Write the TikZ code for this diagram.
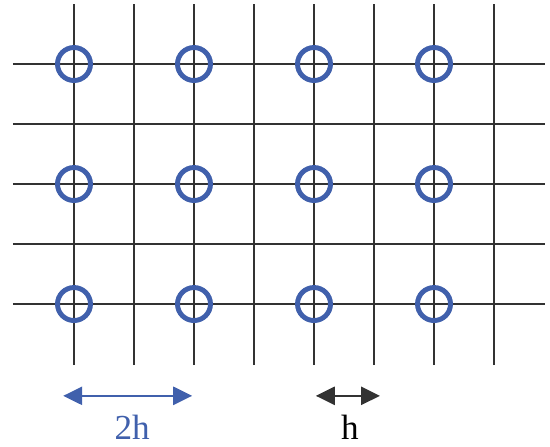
\documentclass[tikz,border=0pt]{standalone}
\usepackage{fontspec}
\setmainfont{Liberation Serif}
\usetikzlibrary{arrows.meta}
\definecolor{ringblue}{RGB}{64,96,172}
\definecolor{gridgray}{RGB}{50,50,50}

\begin{document}
\begin{tikzpicture}[x=1.2cm,y=1.2cm,
  gridline/.style={draw=gridgray, line width=1.1pt},
  site/.style={circle, draw=ringblue, line width=2.8pt, minimum size=0.66cm, inner sep=0pt},
  span/.style={line width=1.5pt, {Triangle[length=0.38cm,width=0.36cm]}-{Triangle[length=0.38cm,width=0.36cm]}},
  lbl/.style={font=\fontsize{20}{24}\selectfont, inner sep=0pt, anchor=base}]
    \useasboundingbox (-1.233,-2.367) rectangle (7.933,5.067);

    % Grid
    \foreach \i in {0,...,7}
        \draw[gridline] (\i,-1.02) -- (\i,5);
    \foreach \j in {0,...,4}
        \draw[gridline] (-1.02,\j) -- (7.85,\j);

    % Sites
    \node[site] (s00) at (0,0) {};
    \node[site] (s20) at (2,0) {};
    \node[site] (s40) at (4,0) {};
    \node[site] (s60) at (6,0) {};
    \node[site] (s02) at (0,2) {};
    \node[site] (s22) at (2,2) {};
    \node[site] (s42) at (4,2) {};
    \node[site] (s62) at (6,2) {};
    \node[site] (s04) at (0,4) {};
    \node[site] (s24) at (2,4) {};
    \node[site] (s44) at (4,4) {};
    \node[site] (s64) at (6,4) {};

    % Spacing arrows
    \coordinate (twohL) at (-0.18,-1.53);
    \coordinate (twohR) at (1.97,-1.53);
    \coordinate (hL) at (4.03,-1.53);
    \coordinate (hR) at (5.1,-1.53);
    \draw[span, draw=ringblue, fill=ringblue] (twohL) -- (twohR);
    \draw[span, draw=gridgray, fill=gridgray] (hL) -- (hR);

    % Labels
    \node[lbl, text=ringblue] (twoh) at (0.97,-2.26) {2h};
    \node[lbl, text=black] (h) at (4.6,-2.26) {h};
\end{tikzpicture}
\end{document}
